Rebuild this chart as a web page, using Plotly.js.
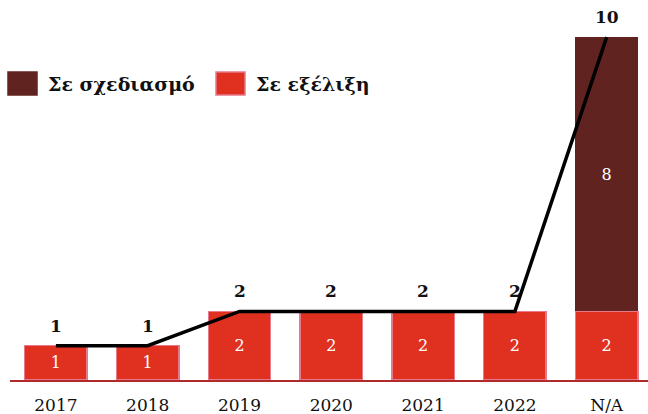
<!DOCTYPE html>
<html>
<head>
<meta charset="utf-8">
<script src="https://cdn.plot.ly/plotly-3.0.1.min.js"></script>
<style>html,body{margin:0;padding:0;background:#fff;}#chart{width:648px;height:414px;}</style>
</head>
<body>
<div id="chart"></div>
<script>
const categories = ["2017", "2018", "2019", "2020", "2021", "2022", "N/A"];
const inProgress = [1, 1, 2, 2, 2, 2, 2];
const planned = [0, 0, 0, 0, 0, 0, 8];
const totals = [1, 1, 2, 2, 2, 2, 10];
const seriesNames = ["Σε σχεδιασμό", "Σε εξέλιξη"];

const FONT = "DejaVu Serif, serif";
const RED = "#e03020";
const BROWN = "#612320";
const PINK = "#e8788a";

const traces = [
  {
    type: "bar", name: seriesNames[1], x: categories, y: inProgress,
    width: 0.68,
    marker: {color: RED, line: {color: PINK, width: 1.5}},
    text: inProgress.map(String), textposition: "inside", insidetextanchor: "middle",
    textfont: {family: FONT, size: 16, color: "#ffffff"},
    hoverinfo: "skip", showlegend: false
  },
  {
    type: "bar", name: seriesNames[0], x: categories, y: planned,
    width: 0.68,
    marker: {color: BROWN, line: {color: BROWN, width: 0}},
    text: planned.map(v => v ? String(v) : ""), textposition: "inside", insidetextanchor: "middle",
    textfont: {family: FONT, size: 16, color: "#ffffff"},
    hoverinfo: "skip", showlegend: false
  },
  {
    type: "scatter", mode: "lines", name: "Σύνολο", x: categories, y: totals,
    line: {color: "#000000", width: 3.5},
    cliponaxis: false, hoverinfo: "skip", showlegend: false
  }
];

const shapes = [];
const annotations = [];

// total labels above the line points (x given as category index)
categories.forEach((c, i) => {
  annotations.push({x: i, y: totals[i], xref: "x", yref: "y",
    text: "<b>" + totals[i] + "</b>", showarrow: false,
    yanchor: "middle", yshift: 20,
    font: {family: FONT, size: 17, color: "#111111"}});
});

// legend drawn manually (large swatches)
const legendItems = [
  {name: seriesNames[0], color: BROWN, border: BROWN, x0: 8, tx: 46},
  {name: seriesNames[1], color: RED, border: PINK, x0: 216, tx: 254}
];
legendItems.forEach(it => {
  shapes.push({type: "rect", xref: "paper", yref: "paper",
    x0: (it.x0 - 10) / 638, x1: (it.x0 + 29 - 10) / 638,
    y0: (380 - 95) / 360, y1: (380 - 72) / 360,
    fillcolor: it.color, line: {color: it.border, width: 1.5}});
  annotations.push({xref: "paper", yref: "paper",
    x: (it.tx - 10) / 638, y: (380 - 84) / 360, xanchor: "left", yanchor: "middle",
    text: "<b>" + it.name + "</b>", showarrow: false,
    font: {family: FONT, size: 19, color: "#111111"}});
});

const layout = {
  width: 648, height: 414,
  margin: {l: 10, r: 0, t: 20, b: 34},
  paper_bgcolor: "#ffffff", plot_bgcolor: "#ffffff",
  barmode: "stack",
  xaxis: {
    type: "category", range: [-0.5, 6.45],
    showgrid: false, zeroline: false,
    showline: true, linecolor: "#b02a2a", linewidth: 2,
    ticks: "", ticklabelstandoff: 9,
    tickfont: {family: FONT, size: 17, color: "#111111"},
    fixedrange: true
  },
  yaxis: {
    range: [0, 10.5], visible: false, showgrid: false, zeroline: false, fixedrange: true
  },
  shapes: shapes,
  annotations: annotations,
  showlegend: false
};

Plotly.newPlot("chart", traces, layout, {displayModeBar: false, staticPlot: true});
</script>
</body>
</html>
